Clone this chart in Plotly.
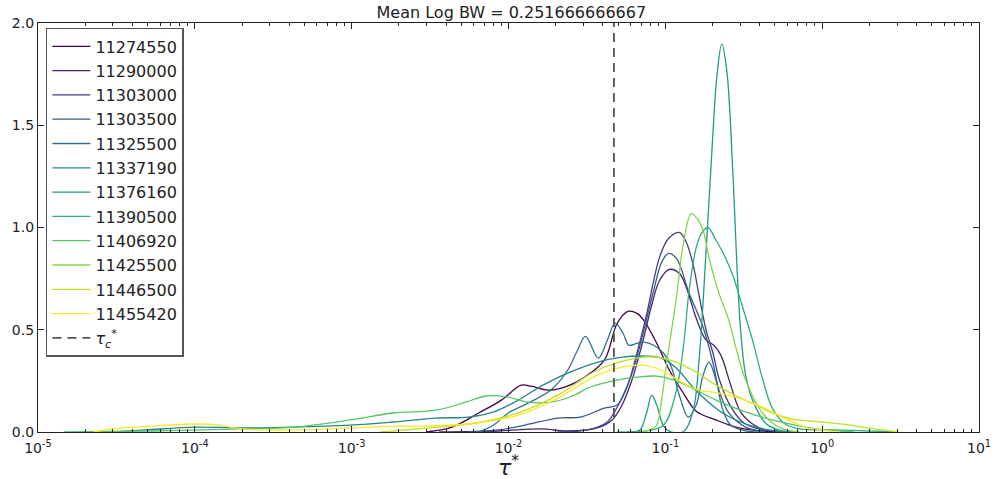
import plotly.graph_objects as go

# Gauge-station IDs (legend order) and viridis line colours
stations = ["11274550", "11290000", "11303000", "11303500", "11325500", "11337190",
            "11376160", "11390500", "11406920", "11425500", "11446500", "11455420"]
colors = ["#440154", "#482374", "#433e85", "#38588c", "#2d708e", "#25858e",
          "#1e9b8a", "#2ab07f", "#52c569", "#86d549", "#c2df23", "#fde725"]

# KDE curves: log10(tau*) sample positions and density values per station
log_tau_11274550 = [-2.524, -2.360, -2.190, -2.045, -1.919, -1.856, -1.749, -1.641, -1.515, -1.389, -1.307,
                    -1.238, -1.181, -1.137, -1.055, -0.974, -0.885, -0.803, -0.677, -0.532, -0.381, -0.236]
dens_11274550 = [0, 0.024, 0.093, 0.156, 0.229, 0.224, 0.205, 0.220, 0.268, 0.351, 0.532,
                 0.590, 0.580, 0.546, 0.434, 0.302, 0.190, 0.102, 0.059, 0.020, 0.005, 0]

log_tau_11290000 = [-2.442, -2.064, -1.793, -1.623, -1.434, -1.339, -1.276, -1.213, -1.150, -1.087, -1.037,
                    -0.974, -0.911, -0.866, -0.803, -0.740, -0.690, -0.646, -0.583, -0.520, -0.444, -0.362, -0.236]
dens_11290000 = [0, 0.005, 0.015, 0.005, 0.020, 0.059, 0.132, 0.254, 0.424, 0.620, 0.741,
                 0.795, 0.776, 0.707, 0.556, 0.449, 0.424, 0.376, 0.229, 0.098, 0.039, 0.010, 0]

log_tau_11303000 = [-1.686, -1.497, -1.370, -1.307, -1.244, -1.181, -1.118, -1.074, -1.037, -0.980, -0.911,
                    -0.866, -0.822, -0.785, -0.740, -0.696, -0.658, -0.595, -0.507, -0.406, -0.236]
dens_11303000 = [0, 0.010, 0.049, 0.122, 0.220, 0.385, 0.580, 0.741, 0.854, 0.946, 0.976,
                 0.927, 0.815, 0.668, 0.498, 0.385, 0.263, 0.141, 0.049, 0.015, 0]

log_tau_11303500 = [-2.253, -2.064, -1.894, -1.686, -1.541, -1.389, -1.307, -1.263, -1.200, -1.137, -1.074,
                    -1.024, -0.980, -0.929, -0.848, -0.759, -0.696, -0.658, -0.595, -0.488, -0.362]
dens_11303500 = [0, 0.010, 0.034, 0.068, 0.073, 0.117, 0.132, 0.190, 0.317, 0.498, 0.693,
                 0.829, 0.873, 0.849, 0.678, 0.512, 0.337, 0.205, 0.093, 0.024, 0]

log_tau_11325500 = [-2.190, -2.095, -2.001, -1.875, -1.730, -1.623, -1.560, -1.509, -1.427, -1.370, -1.320,
                    -1.270, -1.232, -1.181, -1.137, -1.074, -1.011, -0.961, -0.911, -0.854, -0.803, -0.759,
                    -0.722, -0.677, -0.633, -0.583, -0.488, -0.362]
dens_11325500 = [0, 0.034, 0.093, 0.141, 0.205, 0.302, 0.400, 0.468, 0.361, 0.449, 0.532,
                 0.483, 0.424, 0.434, 0.439, 0.424, 0.385, 0.317, 0.180, 0.073, 0.132, 0.278,
                 0.341, 0.254, 0.107, 0.034, 0.005, 0]

log_tau_11337190 = [-4.521, -4.313, -3.998, -3.702, -3.368, -3.009, -2.738, -2.461, -2.253, -2.095, -1.938,
                    -1.780, -1.623, -1.434, -1.276, -1.118, -1.024, -0.929, -0.835, -0.740, -0.614, -0.425, -0.236]
dens_11337190 = [0, 0.010, 0.024, 0.020, 0.024, 0.034, 0.049, 0.068, 0.073, 0.098, 0.156,
                 0.229, 0.288, 0.341, 0.366, 0.371, 0.361, 0.312, 0.229, 0.156, 0.083, 0.024, 0]

log_tau_11376160 = [-1.244, -1.163, -1.118, -1.087, -1.055, -1.011, -0.961, -0.879, -0.822, -0.785, -0.740,
                    -0.703, -0.671, -0.640, -0.608, -0.570, -0.545, -0.520, -0.488, -0.444, -0.362, -0.280, -0.173]
dens_11376160 = [0, 0.010, 0.098, 0.180, 0.132, 0.029, 0, 0.005, 0.107, 0.351, 0.888,
                 1.376, 1.741, 1.898, 1.766, 1.278, 0.839, 0.498, 0.278, 0.156, 0.044, 0.010, 0]

log_tau_11390500 = [-1.307, -1.118, -1.011, -0.929, -0.885, -0.848, -0.803, -0.766, -0.728, -0.677, -0.633,
                    -0.570, -0.507, -0.444, -0.381, -0.318, -0.236, -0.142, 0.079, 0.488]
dens_11390500 = [0, 0.005, 0.034, 0.205, 0.415, 0.693, 0.902, 0.976, 1.000, 0.937, 0.878,
                 0.766, 0.610, 0.449, 0.263, 0.117, 0.039, 0.015, 0.010, 0]

log_tau_11406920 = [-4.836, -4.269, -3.702, -3.368, -3.009, -2.738, -2.461, -2.272, -2.146, -2.001, -1.875,
                    -1.730, -1.591, -1.478, -1.307, -1.181, -1.055, -0.929, -0.803, -0.677, -0.520, -0.362,
                    -0.173, 0.016, 0.205]
dens_11406920 = [0, 0.005, 0.015, 0.024, 0.059, 0.093, 0.107, 0.146, 0.176, 0.171, 0.146,
                 0.146, 0.176, 0.220, 0.254, 0.268, 0.273, 0.249, 0.205, 0.156, 0.107, 0.068,
                 0.034, 0.010, 0]

log_tau_11425500 = [-1.150, -1.087, -1.055, -1.024, -0.992, -0.929, -0.885, -0.835, -0.797, -0.759, -0.722,
                    -0.658, -0.595, -0.551, -0.488, -0.381, -0.268, -0.142]
dens_11425500 = [0, 0.015, 0.034, 0.156, 0.337, 0.659, 0.922, 1.068, 1.044, 0.985, 0.854,
                 0.678, 0.546, 0.415, 0.254, 0.093, 0.020, 0]

log_tau_11446500 = [-2.820, -2.505, -2.209, -1.938, -1.686, -1.434, -1.181, -1.055, -0.929, -0.803, -0.677,
                    -0.532, -0.425, -0.318, -0.192, -0.003, 0.173, 0.331, 0.488]
dens_11446500 = [0, 0.020, 0.044, 0.093, 0.180, 0.302, 0.361, 0.366, 0.341, 0.293, 0.229,
                 0.171, 0.132, 0.093, 0.063, 0.049, 0.034, 0.015, 0]

log_tau_11455420 = [-4.647, -4.521, -4.269, -3.998, -3.847, -3.702, -3.368, -3.009, -2.738, -2.524, -2.209,
                    -1.938, -1.686, -1.434, -1.276, -1.150, -1.024, -0.898, -0.803, -0.595, -0.381, -0.255,
                    -0.110, -0.003, 0.110]
dens_11455420 = [0, 0.015, 0.029, 0.039, 0.034, 0.015, 0.010, 0.020, 0.029, 0.029, 0.044,
                 0.083, 0.166, 0.278, 0.317, 0.327, 0.302, 0.244, 0.210, 0.180, 0.122, 0.073,
                 0.024, 0.010, 0]

log_taus = [log_tau_11274550, log_tau_11290000, log_tau_11303000, log_tau_11303500,
            log_tau_11325500, log_tau_11337190, log_tau_11376160, log_tau_11390500,
            log_tau_11406920, log_tau_11425500, log_tau_11446500, log_tau_11455420]
densities = [dens_11274550, dens_11290000, dens_11303000, dens_11303500,
             dens_11325500, dens_11337190, dens_11376160, dens_11390500,
             dens_11406920, dens_11425500, dens_11446500, dens_11455420]

# Critical Shields stress and title value
tau_c = 0.047
mean_log_bw = "0.251666666667"

x_ticks = [1e-5, 1e-4, 1e-3, 1e-2, 1e-1, 1e0, 1e1]
x_ticktext = ["10<sup>-5</sup>", "10<sup>-4</sup>", "10<sup>-3</sup>", "10<sup>-2</sup>",
              "10<sup>-1</sup>", "10<sup>0</sup>", "10<sup>1</sup>"]
y_ticks = [0.0, 0.5, 1.0, 1.5, 2.0]
minor_x = [m * 10.0 ** e for e in range(-5, 1) for m in range(2, 10)]

FONT = "DejaVu Sans, Bitstream Vera Sans, sans-serif"

fig = go.Figure()
for i, (name, col, lt, dens) in enumerate(zip(stations, colors, log_taus, densities)):
    fig.add_trace(go.Scatter(
        x=[10.0 ** v for v in lt], y=dens, mode="lines", name=name,
        line=dict(color=col, width=1.3, shape="spline", smoothing=1.0),
        legendgroup=f"g{i}",
    ))

fig.add_trace(go.Scatter(
    x=[tau_c, tau_c], y=[0, 2], mode="lines",
    name="<i>τ</i><sub><i>c</i></sub><sup>*</sup>",
    line=dict(color="#555555", width=1.8, dash="9px,6px"),
    legendgroup="gc",
))

axis_common = dict(
    showline=True, linecolor="#222222", linewidth=1.2, mirror="allticks",
    ticks="inside", tickcolor="#222222", showgrid=False, zeroline=False,
    tickfont=dict(family=FONT, size=14, color="#222222"),
)

fig.update_layout(
    width=1003, height=479,
    margin=dict(l=34, r=17, t=23, b=47),
    paper_bgcolor="white", plot_bgcolor="white",
    font=dict(family=FONT, color="#222222"),
    title=dict(text=f"Mean Log BW = {mean_log_bw}", x=0.5098, xanchor="center",
               y=0.975, yanchor="middle", font=dict(family=FONT, size=16, color="#222222")),
    xaxis=dict(type="log", range=[-5, 1], tickmode="array", tickvals=x_ticks, ticktext=x_ticktext,
               ticklen=6, ticklabelstandoff=3,
               minor=dict(tickmode="array", tickvals=minor_x, ticks="inside",
                          ticklen=3, tickcolor="#222222", showgrid=False),
               **axis_common),
    yaxis=dict(range=[0, 2], tickmode="array", tickvals=y_ticks, tickformat=".1f",
               ticklen=6, **axis_common),
    legend=dict(x=0.0084, y=0.988, xanchor="left", yanchor="top",
                bgcolor="white", bordercolor="#555555", borderwidth=1.5,
                font=dict(family=FONT, size=16, color="#222222"),
                tracegroupgap=0.5, itemwidth=38),
    showlegend=True,
)

fig.add_annotation(
    text="<i>τ</i><sup>*</sup>", xref="paper", yref="paper", x=0.5, y=-0.082,
    xanchor="center", yanchor="middle", showarrow=False,
    font=dict(family=FONT, size=22, color="#222222"),
)

fig.write_html("out.html")
